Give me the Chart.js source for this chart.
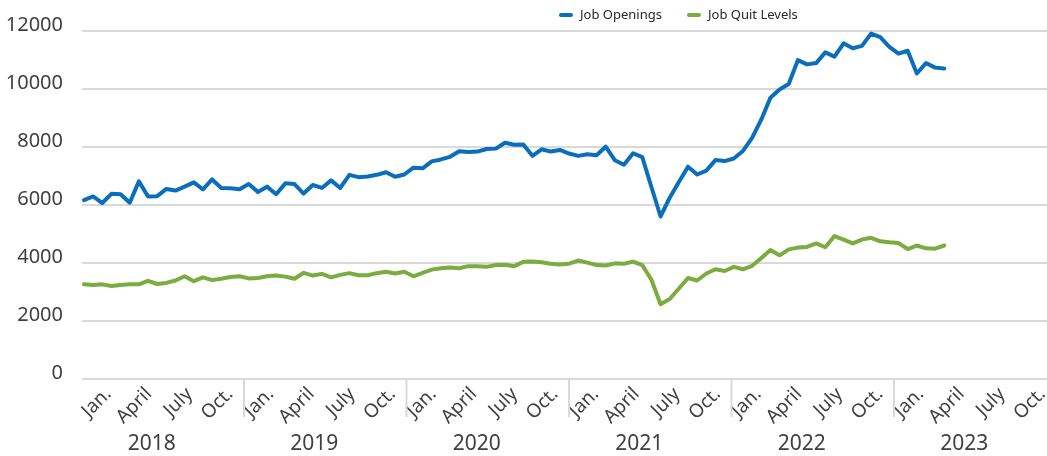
<!DOCTYPE html>
<html>
<head>
<meta charset="utf-8">
<script src="https://cdn.jsdelivr.net/npm/chart.js@4.4.0/dist/chart.umd.min.js"></script>
<style>
  html, body { margin: 0; padding: 0; background: #fff; overflow: hidden; }
  #wrap { position: relative; width: 1060px; height: 456px; }
  .legend-item { position: absolute; top: 5px; font: 13px "Noto Sans", sans-serif; color: #262626; white-space: nowrap; line-height: 18px; }
  .legend-item span { display: inline-block; width: 14px; height: 4px; border-radius: 2px; vertical-align: middle; margin-right: 7px; margin-top: -2px; }
</style>
</head>
<body>
<div id="wrap">
  <canvas id="lineChart" width="1060" height="456"></canvas>
  <div class="legend-item" style="left:559px"><span style="background:#0a6ebd"></span>Job Openings</div>
  <div class="legend-item" style="left:687px"><span style="background:#7aac3f"></span>Job Quit Levels</div>
</div>
<script>
// Data (thousands)
const years = ["2018", "2019", "2020", "2021", "2022", "2023"];
const monthTicks = ["Jan.", "", "", "April", "", "", "July", "", "", "Oct.", "", ""];
const jobOpenings = [
  6170, 6294, 6068, 6384, 6373, 6079, 6814, 6294, 6305, 6554, 6497, 6633,
  6780, 6542, 6881, 6588, 6576, 6542, 6723, 6452, 6633, 6373, 6746, 6723,
  6395, 6689, 6588, 6848, 6588, 7040, 6960, 6983, 7040, 7130, 6972, 7051,
  7288, 7266, 7503, 7571, 7661, 7853, 7831, 7842, 7932, 7944, 8147, 8079,
  8090, 7695, 7921, 7842, 7898, 7774, 7693, 7750, 7716, 8011, 7546, 7387,
  7784, 7648, 6620, 5604, 6250, 6790, 7322, 7051, 7187, 7548, 7514, 7604,
  7864, 8318, 8943, 9700, 9980, 10170, 10994, 10849, 10894, 11262, 11117, 11575,
  11407, 11486, 11910, 11787, 11452, 11218, 11318, 10536, 10894, 10737, 10704
];
const jobQuits = [
  3264, 3240, 3264, 3204, 3240, 3264, 3264, 3385, 3276, 3313, 3397, 3542,
  3373, 3506, 3409, 3457, 3518, 3542, 3469, 3481, 3542, 3566, 3530, 3457,
  3662, 3566, 3626, 3506, 3590, 3650, 3578, 3578, 3650, 3698, 3638, 3698,
  3542, 3662, 3771, 3819, 3843, 3819, 3891, 3891, 3867, 3928, 3940, 3890,
  4040, 4048, 4024, 3976, 3952, 3976, 4084, 4012, 3928, 3916, 3988, 3976,
  4048, 3928, 3421, 2577, 2758, 3120, 3481, 3397, 3638, 3783, 3723, 3867,
  3783, 3903, 4169, 4446, 4265, 4470, 4531, 4555, 4675, 4543, 4928, 4808,
  4675, 4808, 4868, 4748, 4712, 4687, 4482, 4603, 4506, 4494, 4603
];

document.addEventListener("DOMContentLoaded", () => {
  const months = [];
  years.forEach((y) => monthTicks.forEach((m, i) => months.push(y + "-" + (i + 1))));

  const toPoints = (arr) => arr.map((v, i) => ({ x: i, y: v }));
  const textColor = "#404040";
  const gridColor = "#d9d9d9";

  // year separators and year labels under the month ticks
  const yearAxis = {
    id: "yearAxis",
    afterDraw(chart) {
      const sx = chart.scales.x;
      const ctx = chart.ctx;
      const slot = sx.getPixelForValue(1) - sx.getPixelForValue(0);
      const base = chart.chartArea.bottom;
      ctx.save();
      ctx.strokeStyle = gridColor;
      ctx.lineWidth = 2;
      ctx.fillStyle = textColor;
      ctx.font = '21px "Noto Sans"';
      ctx.textAlign = "center";
      ctx.textBaseline = "middle";
      years.forEach((y, k) => {
        const start = sx.getPixelForValue(k * 12) - slot / 2;
        if (k > 0) {
          ctx.beginPath();
          ctx.moveTo(start, base);
          ctx.lineTo(start, base + 38);
          ctx.stroke();
        }
        ctx.fillText(y, start + 6 * slot - 11, 444);
      });
      ctx.restore();
    }
  };

  const ctx = document.getElementById("lineChart").getContext("2d");
  new Chart(ctx, {
    type: "line",
    data: {
      labels: months,
      datasets: [
        {
          label: "Job Openings",
          data: toPoints(jobOpenings),
          xAxisID: "xd",
          borderColor: "#0a6ebd",
          borderWidth: 4,
          pointRadius: 0,
          borderJoinStyle: "round",
          borderCapStyle: "round"
        },
        {
          label: "Job Quit Levels",
          data: toPoints(jobQuits),
          xAxisID: "xd",
          borderColor: "#7aac3f",
          borderWidth: 4,
          pointRadius: 0,
          borderJoinStyle: "round",
          borderCapStyle: "round"
        }
      ]
    },
    options: {
      responsive: false,
      animation: false,
      layout: { padding: { left: 0, right: 3.5, top: 31, bottom: 0 } },
      plugins: { legend: { display: false }, tooltip: { enabled: false } },
      scales: {
        x: {
          type: "category",
          labels: months,
          offset: true,
          grid: { display: false },
          border: { display: false },
          afterFit: (scale) => {
            scale.height = 77;
            scale.paddingLeft = 0;
            scale.paddingRight = 0;
          },
          ticks: {
            autoSkip: false,
            minRotation: 45,
            maxRotation: 45,
            padding: -4,
            labelOffset: 20,
            color: textColor,
            font: { family: "Noto Sans", size: 19 },
            callback: (value, index) => monthTicks[index % 12]
          }
        },
        xd: {
          type: "linear",
          display: false,
          min: -0.27,
          max: 106.26
        },
        y: {
          min: 0,
          max: 12000,
          afterFit: (scale) => { scale.width = 81.5; },
          border: { display: false },
          grid: { color: gridColor, lineWidth: 2, drawTicks: false },
          ticks: {
            stepSize: 2000,
            padding: 18.5,
            labelOffset: -6,
            color: textColor,
            font: { family: "Noto Sans", size: 20 },
            callback: (value) => String(value)
          }
        }
      }
    },
    plugins: [yearAxis]
  });
});
</script>
</body>
</html>
